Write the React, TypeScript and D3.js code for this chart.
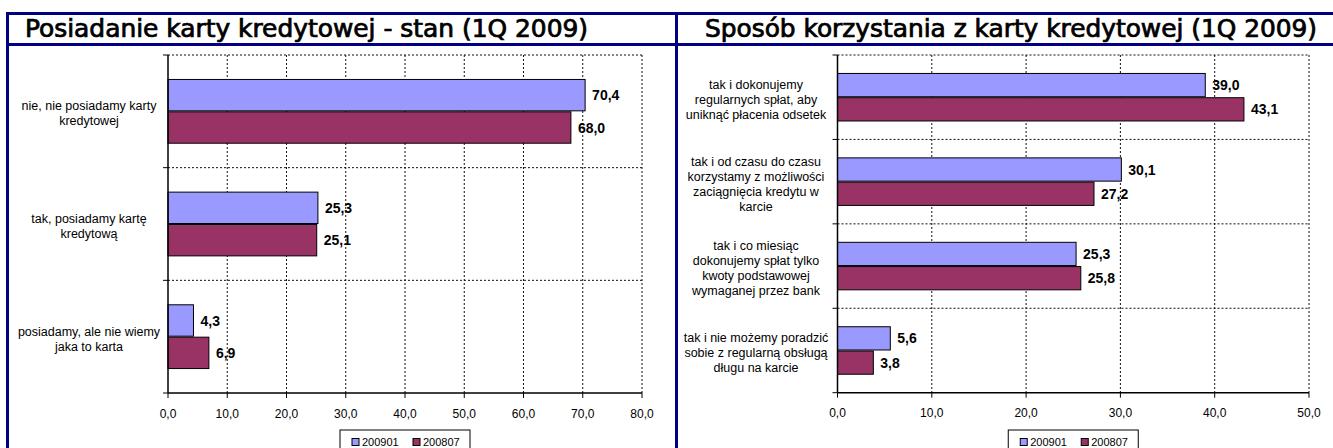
import React from 'react';
import * as d3 from 'd3';

// series names
const seriesNames = ['200901', '200807'];
const seriesColors = ['#9999FF', '#993366'];

// left panel: card ownership
const leftTitle = 'Posiadanie karty kredytowej - stan (1Q 2009)';
const leftCategories = [
  ['nie, nie posiadamy karty', 'kredytowej'],
  ['tak, posiadamy kartę', 'kredytową'],
  ['posiadamy, ale nie wiemy', 'jaka to karta'],
];
const left200901 = [70.4, 25.3, 4.3];
const left200807 = [68.0, 25.1, 6.9];
const leftTicks = [0, 10, 20, 30, 40, 50, 60, 70, 80];

// right panel: how the card is used
const rightTitle = 'Sposób korzystania z karty kredytowej (1Q 2009)';
const rightCategories = [
  ['tak i dokonujemy', 'regularnych spłat, aby', 'uniknąć płacenia odsetek'],
  ['tak i od czasu do czasu', 'korzystamy z możliwości', 'zaciągnięcia kredytu w', 'karcie'],
  ['tak i co miesiąc', 'dokonujemy spłat tylko', 'kwoty podstawowej', 'wymaganej przez bank'],
  ['tak i nie możemy poradzić', 'sobie z regularną obsługą', 'długu na karcie'],
];
const right200901 = [39.0, 30.1, 25.3, 5.6];
const right200807 = [43.1, 27.2, 25.8, 3.8];
const rightTicks = [0, 10, 20, 30, 40, 50];

const NAVY = '#000080';
const ARIAL = '"Liberation Sans", Arial, sans-serif';
const fmt = (v: number) => d3.format('.1f')(v).replace('.', ',');

type PanelProps = {
  title: string;
  titleX: number;
  titleW: number;
  categories: string[][];
  values: number[][];
  ticks: number[];
  left: number;
  right: number;
  top: number;
  bottom: number;
  labelX: number;
};

function Panel({ title, titleX, titleW, categories, values, ticks, left, right, top, bottom, labelX }: PanelProps) {
  const x = d3.scaleLinear().domain([0, ticks[ticks.length - 1]]).range([left, right]);
  const y = d3.scaleBand<number>()
    .domain(categories.map((_, i) => i))
    .range([top, bottom])
    .padding(0);
  const sub = d3.scaleBand<number>()
    .domain(seriesNames.map((_, i) => i))
    .range([0, y.bandwidth()])
    .paddingInner(0)
    .paddingOuter(0.74);

  const boundaries = d3.range(categories.length + 1).map(i => top + i * y.step());
  const legendW = 130;
  const legendX = (left + right) / 2 - legendW / 2;

  return (
    <g>
      <text
        x={titleX}
        y={37}
        textLength={titleW}
        lengthAdjust="spacingAndGlyphs"
        style={{ fontFamily: '"DejaVu Sans Condensed", "DejaVu Sans", sans-serif', fontWeight: 'normal', fontSize: 24 }}
        fill="#000"
        stroke="#000"
        strokeWidth={0.7}
      >
        {title}
      </text>

      {/* vertical grid */}
      {ticks.slice(1).map(t => (
        <line key={'gx' + t} x1={x(t)} x2={x(t)} y1={top} y2={bottom} stroke="#111" strokeWidth={1} strokeDasharray="2,2" />
      ))}
      {/* horizontal grid at category boundaries */}
      {boundaries.slice(0, -1).map((b, i) => (
        <line key={'gy' + i} x1={left} x2={right} y1={b} y2={b} stroke="#111" strokeWidth={1} strokeDasharray="2,2" />
      ))}

      {/* bars */}
      {categories.map((_, ci) =>
        values.map((vals, si) => (
          <rect
            key={`b${ci}-${si}`}
            x={x(0)}
            y={(y(ci) as number) + (sub(si) as number) + 0.5}
            width={x(vals[ci]) - x(0)}
            height={sub.bandwidth() - 1}
            fill={seriesColors[si]}
            stroke="#000"
            strokeWidth={1}
          />
        ))
      )}

      {/* value labels */}
      {categories.map((_, ci) =>
        values.map((vals, si) => (
          <text
            key={`v${ci}-${si}`}
            x={x(vals[ci]) + 7}
            y={(y(ci) as number) + (sub(si) as number) + sub.bandwidth() / 2}
            dy="0.36em"
            style={{ fontFamily: ARIAL, fontWeight: 'bold', fontSize: 14 }}
            fill="#000"
          >
            {fmt(vals[ci])}
          </text>
        ))
      )}

      {/* axes */}
      <line x1={left} x2={left} y1={top} y2={bottom} stroke="#000" strokeWidth={1.5} />
      <line x1={left} x2={right} y1={bottom} y2={bottom} stroke="#000" strokeWidth={1.5} />
      {boundaries.map((b, i) => (
        <line key={'ty' + i} x1={left - 5} x2={left} y1={b} y2={b} stroke="#000" strokeWidth={1} />
      ))}
      {ticks.map(t => (
        <g key={'tx' + t}>
          <line x1={x(t)} x2={x(t)} y1={bottom} y2={bottom + 5} stroke="#000" strokeWidth={1} />
          <text x={x(t)} y={bottom + 24.5} textAnchor="middle" style={{ fontFamily: ARIAL, fontSize: 12 }} fill="#000">
            {fmt(t)}
          </text>
        </g>
      ))}

      {/* category labels */}
      {categories.map((lines, ci) => {
        const cy = (y(ci) as number) + y.bandwidth() / 2 + 2;
        const lh = 15;
        return (
          <text key={'c' + ci} textAnchor="middle" style={{ fontFamily: ARIAL, fontSize: 12.5 }} fill="#000">
            {lines.map((ln, li) => (
              <tspan key={li} x={labelX} y={cy + (li - (lines.length - 1) / 2) * lh} dy="0.35em">
                {ln}
              </tspan>
            ))}
          </text>
        );
      })}

      {/* legend */}
      <rect x={legendX} y={430} width={legendW} height={30} fill="#fff" stroke="#000" strokeWidth={1} />
      {seriesNames.map((name, si) => (
        <g key={'l' + si} transform={`translate(${legendX + 12 + si * 61},442)`}>
          <rect x={0} y={-3.5} width={7} height={7} fill={seriesColors[si]} stroke="#000" strokeWidth={1} />
          <text x={10} y={0} dy="0.36em" style={{ fontFamily: ARIAL, fontSize: 11 }} fill="#000">
            {name}
          </text>
        </g>
      ))}
    </g>
  );
}

export default function App() {
  return (
    <svg
      width={1333}
      height={448}
      style={{ position: 'fixed', left: 0, top: 0, background: '#fff', display: 'block' }}
    >
      <rect x={0} y={0} width={1333} height={448} fill="#fff" />
      <Panel
        title={leftTitle}
        titleX={25}
        titleW={563}
        categories={leftCategories}
        values={[left200901, left200807]}
        ticks={leftTicks}
        left={168}
        right={642}
        top={55}
        bottom={393}
        labelX={89}
      />
      <Panel
        title={rightTitle}
        titleX={705}
        titleW={612}
        categories={rightCategories}
        values={[right200901, right200807]}
        ticks={rightTicks}
        left={837.5}
        right={1309}
        top={55}
        bottom={392.7}
        labelX={756}
      />
      {/* frame */}
      <rect x={6} y={12} width={1327} height={3} fill={NAVY} />
      <rect x={6} y={43} width={1327} height={3} fill={NAVY} />
      <rect x={6} y={12} width={3} height={436} fill={NAVY} />
      <rect x={675} y={12} width={3} height={436} fill={NAVY} />
    </svg>
  );
}
